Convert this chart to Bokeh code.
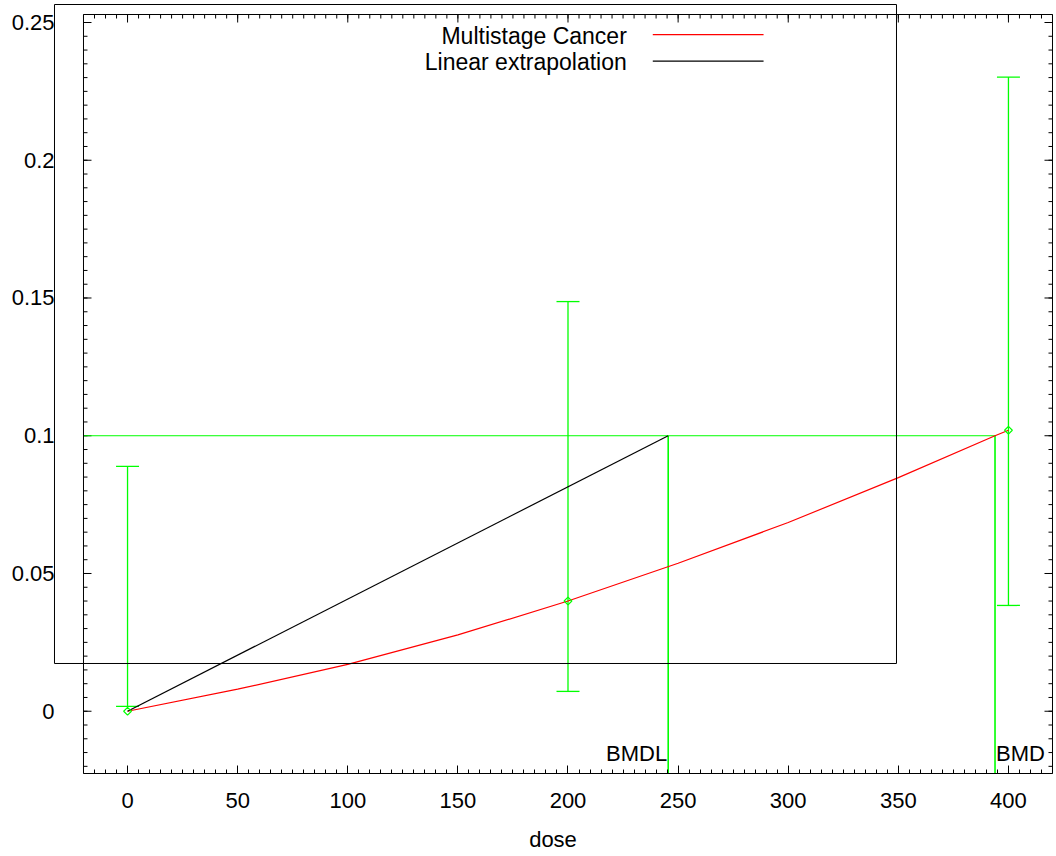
import numpy as np
from bokeh.plotting import figure
from bokeh.models import (Range1d, FixedTicker, Whisker, TeeHead, Label,
                          BoxAnnotation, ColumnDataSource)
from bokeh.embed import file_html
from bokeh.resources import INLINE

# ---- data ----
dose = [0, 200, 400]
response = [0.0, 0.040, 0.102]
err_lower = [0.0018, 0.0072, 0.0384]
err_upper = [0.0889, 0.1487, 0.2302]

curve_dose = [0, 50, 100, 150, 200, 250, 300, 350, 393.9, 400]
curve_resp = [0.0, 0.0080, 0.0170, 0.0277, 0.0400, 0.0537, 0.0685, 0.0848, 0.1000, 0.1020]

bmr = 0.1
bmdl = 245.5
bmd = 393.9

x_ticks = [0, 50, 100, 150, 200, 250, 300, 350, 400]
x_tick_labels = ["0", "50", "100", "150", "200", "250", "300", "350", "400"]
y_ticks = [0, 0.05, 0.1, 0.15, 0.2, 0.25]
y_tick_labels = ["0", "0.05", "0.1", "0.15", "0.2", "0.25"]

series_names = ["Multistage Cancer", "Linear extrapolation"]

# ---- layout constants ----
# plot border (gnuplot axes box) in data units
BX0, BX1 = -20, 420
BY0, BY1 = -0.0226, 0.2529
# drawing area slightly larger than the border so the stray key box fits
X_START, X_END = -34.53, 420.91
Y_START, Y_END = BY0, 0.25726
# key box of the original (extends beyond the axes box)
KEY_L, KEY_R, KEY_B, KEY_T = -33.17, 349.16, 0.01733, 0.25653

FONT = "Liberation Sans"
FS = "22px"
KEY_FS = "23px"
GREEN = "#00ff00"
RED = "#ff0000"
BASE_FIX = 8  # px lift so alphabetic baselines land where intended

p = figure(frame_width=1003, frame_height=771,
           min_border_left=51, min_border_top=2, min_border_right=2, min_border_bottom=80,
           x_range=Range1d(X_START, X_END), y_range=Range1d(Y_START, Y_END),
           output_backend="svg", toolbar_location=None)
p.xgrid.visible = False
p.ygrid.visible = False
p.outline_line_color = None
p.background_fill_color = "white"
p.border_fill_color = "white"

x_minor = list(np.arange(-20, 421, 5))
y_minor = list(np.round(np.arange(-0.02, 0.2531, 0.005), 4))


def style_labels(ax, ticks, labels):
    ax.major_label_overrides = {t: l for t, l in zip(ticks, labels)}
    ax.major_label_text_font = FONT
    ax.major_label_text_font_size = FS
    ax.major_label_text_color = "black"


xa = p.xaxis[0]
xa.ticker = FixedTicker(ticks=x_ticks, minor_ticks=x_minor)
xa.bounds = (BX0, BX1)
xa.major_tick_in = 8
xa.major_tick_out = 0
xa.minor_tick_in = 4
xa.minor_tick_out = 0
xa.axis_line_color = "black"
xa.major_tick_line_color = "black"
xa.minor_tick_line_color = "black"
style_labels(xa, x_ticks, x_tick_labels)
xa.major_label_standoff = 19
xa.axis_label = "dose"
xa.axis_label_text_font = FONT
xa.axis_label_text_font_size = FS
xa.axis_label_text_font_style = "normal"
xa.axis_label_text_color = "black"
xa.axis_label_standoff = 16

# y axis: labels only (its ticks sit on the axes box, drawn below)
ya = p.yaxis[0]
ya.ticker = FixedTicker(ticks=y_ticks, minor_ticks=[])
ya.axis_line_color = None
ya.major_tick_line_color = None
ya.minor_tick_line_color = None
ya.major_tick_in = 0
ya.major_tick_out = 0
ya.minor_tick_in = 0
ya.minor_tick_out = 0
style_labels(ya, y_ticks, y_tick_labels)
ya.major_label_standoff = -3

# axes box
p.add_layout(BoxAnnotation(left=BX0, right=BX1, bottom=BY0, top=BY1,
                           fill_alpha=0, line_color="black", line_alpha=1, line_width=1))

# ticks on the left, right and top edges of the box
for xe, ang in [(BX0, 0), (BX1, np.pi)]:
    p.ray(x=[xe] * len(y_ticks), y=y_ticks, length=8, angle=ang,
          length_units="screen", line_color="black", line_width=1)
    p.ray(x=[xe] * len(y_minor), y=y_minor, length=4, angle=ang,
          length_units="screen", line_color="black", line_width=1)
p.ray(x=x_ticks, y=[BY1] * len(x_ticks), length=8, angle=-np.pi / 2,
      length_units="screen", line_color="black", line_width=1)
p.ray(x=x_minor, y=[BY1] * len(x_minor), length=4, angle=-np.pi / 2,
      length_units="screen", line_color="black", line_width=1)

# key box
p.add_layout(BoxAnnotation(left=KEY_L, right=KEY_R, bottom=KEY_B, top=KEY_T,
                           fill_alpha=0, line_color="black", line_alpha=1, line_width=1))

# BMR / BMD / BMDL lines
p.segment(x0=[BX0], y0=[bmr], x1=[bmd], y1=[bmr], line_color=GREEN, line_width=1)
p.segment(x0=[bmdl, bmd], y0=[bmr, bmr], x1=[bmdl, bmd], y1=[BY0, BY0],
          line_color=GREEN, line_width=1.6)

# model curve and linear extrapolation
p.line(curve_dose, curve_resp, line_color=RED, line_width=1.2)
p.line([0, bmdl], [0, bmr], line_color="black", line_width=1.2)

# error bars + data points
src = ColumnDataSource(dict(dose=dose, resp=response, lower=err_lower, upper=err_upper))
p.add_layout(Whisker(base="dose", lower="lower", upper="upper", source=src,
                     dimension="height", line_color=GREEN, line_width=1.3,
                     upper_head=TeeHead(size=23, line_color=GREEN, line_width=1.3),
                     lower_head=TeeHead(size=23, line_color=GREEN, line_width=1.3)))
p.scatter("dose", "resp", source=src, marker="square", size=5.5, angle=np.pi / 4,
          line_color=GREEN, fill_color=None, line_width=1.2)

# BMDL / BMD labels
p.add_layout(Label(x=bmdl, y=-0.01826, text="BMDL", text_align="right",
                   text_baseline="alphabetic", text_font=FONT, text_font_size=FS,
                   text_color="black", x_offset=-1, y_offset=BASE_FIX))
p.add_layout(Label(x=bmd, y=-0.01826, text="BMD", text_align="left",
                   text_baseline="alphabetic", text_font=FONT, text_font_size=FS,
                   text_color="black", x_offset=1, y_offset=BASE_FIX))

# key entries: text on the left, sample line on the right
key_text_x = 226.7
key_text_y = [0.24227, 0.23264]
key_line_y = [0.2456, 0.2360]
key_line_x0, key_line_x1 = 238.5, 288.8
for name, ty, ly, col in zip(series_names, key_text_y, key_line_y, [RED, "black"]):
    p.add_layout(Label(x=key_text_x, y=ty, text=name, text_align="right",
                       text_baseline="alphabetic", text_font=FONT, text_font_size=KEY_FS,
                       text_color="black", y_offset=BASE_FIX))
    p.segment(x0=[key_line_x0], y0=[ly], x1=[key_line_x1], y1=[ly],
              line_color=col, line_width=1.2)

open("out.html", "w").write(file_html(p, INLINE))
